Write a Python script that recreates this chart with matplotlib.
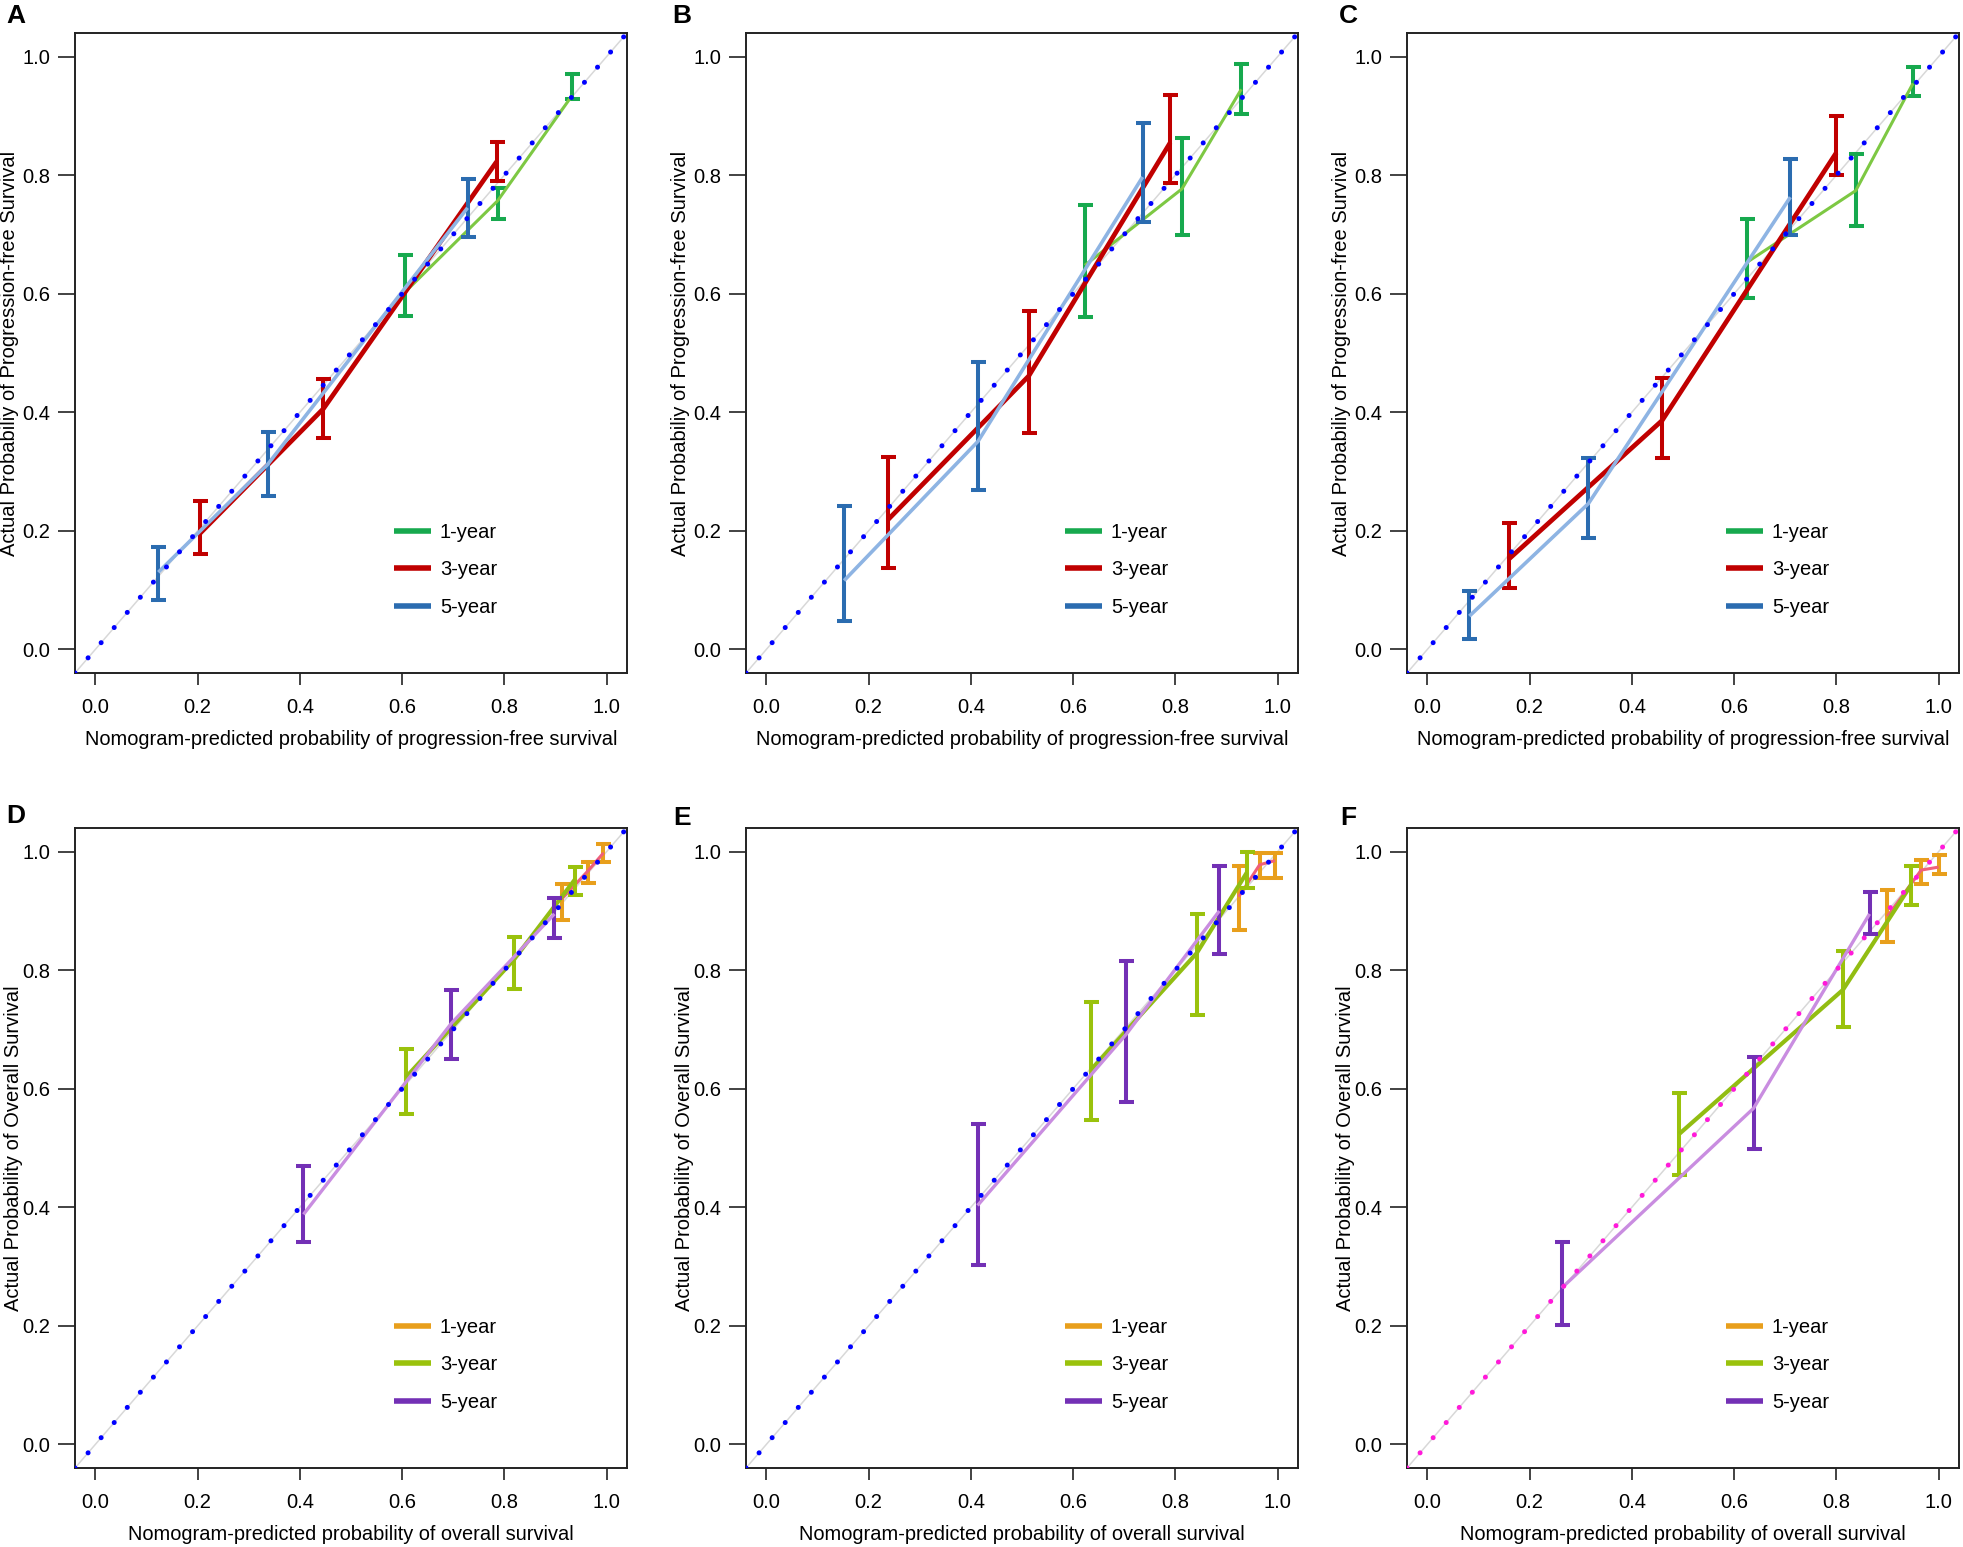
import matplotlib
matplotlib.use("Agg")
import matplotlib.pyplot as plt
from matplotlib.lines import Line2D

plt.rcParams['font.family'] = ['Liberation Sans', 'DejaVu Sans']

# ---------------- data (predicted, observed, CI low, CI high) ----------------
# Panel A (PFS)
A1_pred = [0.606, 0.787, 0.933]; A1_obs = [0.603, 0.757, 0.935]; A1_lo = [0.563, 0.726, 0.928]; A1_hi = [0.665, 0.779, 0.970]
A3_pred = [0.205, 0.446, 0.785]; A3_obs = [0.196, 0.406, 0.823]; A3_lo = [0.160, 0.356, 0.790]; A3_hi = [0.250, 0.456, 0.856]
A5_pred = [0.123, 0.337, 0.728]; A5_obs = [0.130, 0.312, 0.745]; A5_lo = [0.083, 0.259, 0.695]; A5_hi = [0.172, 0.366, 0.794]
# Panel B (PFS)
B1_pred = [0.623, 0.813, 0.929]; B1_obs = [0.648, 0.777, 0.945]; B1_lo = [0.561, 0.699, 0.903]; B1_hi = [0.750, 0.863, 0.987]
B3_pred = [0.237, 0.513, 0.790]; B3_obs = [0.218, 0.461, 0.855]; B3_lo = [0.138, 0.365, 0.787]; B3_hi = [0.324, 0.571, 0.935]
B5_pred = [0.152, 0.414, 0.736]; B5_obs = [0.116, 0.351, 0.797]; B5_lo = [0.048, 0.269, 0.721]; B5_hi = [0.241, 0.484, 0.888]
# Panel C (PFS)
C1_pred = [0.625, 0.838, 0.950]; C1_obs = [0.653, 0.774, 0.955]; C1_lo = [0.592, 0.715, 0.934]; C1_hi = [0.726, 0.836, 0.983]
C3_pred = [0.159, 0.459, 0.800]; C3_obs = [0.152, 0.386, 0.838]; C3_lo = [0.103, 0.322, 0.800]; C3_hi = [0.2125, 0.457, 0.900]
C5_pred = [0.082, 0.315, 0.710]; C5_obs = [0.056, 0.246, 0.763]; C5_lo = [0.017, 0.188, 0.699]; C5_hi = [0.098, 0.322, 0.827]
# Panel D (OS)
D1_pred = [0.912, 0.963, 0.994]; D1_obs = [0.920, 0.967, 0.998]; D1_lo = [0.885, 0.947, 0.982]; D1_hi = [0.946, 0.983, 1.013]
D3_pred = [0.607, 0.818, 0.938]; D3_obs = [0.619, 0.817, 0.953]; D3_lo = [0.557, 0.769, 0.927]; D3_hi = [0.667, 0.856, 0.974]
D5_pred = [0.407, 0.696, 0.898]; D5_obs = [0.388, 0.710, 0.895]; D5_lo = [0.342, 0.650, 0.854]; D5_hi = [0.469, 0.766, 0.922]
# Panel E (OS)
E1_pred = [0.924, 0.965, 0.995]; E1_obs = [0.924, 0.978, 0.985]; E1_lo = [0.868, 0.955, 0.955]; E1_hi = [0.976, 0.998, 0.998]
E3_pred = [0.635, 0.842, 0.940]; E3_obs = [0.632, 0.829, 0.965]; E3_lo = [0.548, 0.724, 0.938]; E3_hi = [0.747, 0.895, 1.000]
E5_pred = [0.413, 0.704, 0.886]; E5_obs = [0.403, 0.692, 0.900]; E5_lo = [0.302, 0.578, 0.827]; E5_hi = [0.540, 0.815, 0.976]
# Panel F (OS)
F1_pred = [0.900, 0.966, 1.000]; F1_obs = [0.891, 0.969, 0.974]; F1_lo = [0.847, 0.946, 0.963]; F1_hi = [0.935, 0.986, 0.994]
F3_pred = [0.493, 0.813, 0.947]; F3_obs = [0.524, 0.767, 0.945]; F3_lo = [0.454, 0.705, 0.910]; F3_hi = [0.592, 0.833, 0.976]
F5_pred = [0.263, 0.638, 0.865]; F5_obs = [0.264, 0.567, 0.895]; F5_lo = [0.2005, 0.4975, 0.861]; F5_hi = [0.341, 0.654, 0.932]

series_labels = ["1-year", "3-year", "5-year"]
tick_values = [0.0, 0.2, 0.4, 0.6, 0.8, 1.0]
tick_labels = ["0.0", "0.2", "0.4", "0.6", "0.8", "1.0"]
panel_letters = ["A", "B", "C", "D", "E", "F"]

pfs_xlabel = "Nomogram-predicted probability of progression-free survival"
pfs_ylabel = "Actual Probabiliy of Progression-free Survival"
os_xlabel = "Nomogram-predicted probability of overall survival"
os_ylabel = "Actual Probability of Overall Survival"

# ---------------- styles ----------------
pfs_bar_colors = ["#17a94e", "#c00000", "#2b6cb0"]
pfs_line_colors = ["#7dc843", "#c00000", "#8eb4e3"]
pfs_line_widths = [2.2, 3.4, 2.6]
os_bar_colors = ["#e89f1c", "#9ac20c", "#7330b5"]
os_line_colors = ["#f0607a", "#92bd12", "#c98de0"]
os_line_widths = [2.2, 3.0, 2.4]

panels = [
    dict(series=[(A1_pred, A1_obs, A1_lo, A1_hi), (A3_pred, A3_obs, A3_lo, A3_hi), (A5_pred, A5_obs, A5_lo, A5_hi)],
         kind="pfs", dot="#0000ff"),
    dict(series=[(B1_pred, B1_obs, B1_lo, B1_hi), (B3_pred, B3_obs, B3_lo, B3_hi), (B5_pred, B5_obs, B5_lo, B5_hi)],
         kind="pfs", dot="#0000ff"),
    dict(series=[(C1_pred, C1_obs, C1_lo, C1_hi), (C3_pred, C3_obs, C3_lo, C3_hi), (C5_pred, C5_obs, C5_lo, C5_hi)],
         kind="pfs", dot="#0000ff"),
    dict(series=[(D1_pred, D1_obs, D1_lo, D1_hi), (D3_pred, D3_obs, D3_lo, D3_hi), (D5_pred, D5_obs, D5_lo, D5_hi)],
         kind="os", dot="#0000ff"),
    dict(series=[(E1_pred, E1_obs, E1_lo, E1_hi), (E3_pred, E3_obs, E3_lo, E3_hi), (E5_pred, E5_obs, E5_lo, E5_hi)],
         kind="os", dot="#0000ff"),
    dict(series=[(F1_pred, F1_obs, F1_lo, F1_hi), (F3_pred, F3_obs, F3_lo, F3_hi), (F5_pred, F5_obs, F5_lo, F5_hi)],
         kind="os", dot="#ff1ad9"),
]

W, H = 1963, 1547
fig = plt.figure(figsize=(W / 100, H / 100), dpi=100)

col_left = [75, 746, 1407]
ax_w = 552
row_top = [33, 828]
ax_h = 640
label_pos = [(16, 16), (682, 16), (1348, 16), (16, 816), (682, 818), (1348, 818)]
ylabel_x = [-0.102, -0.102, -0.102, -0.095, -0.095, -0.095]

LIM = (-0.04, 1.04)

for i, p in enumerate(panels):
    r, c = divmod(i, 3)
    left = col_left[c] / W
    bottom = 1 - (row_top[r] + ax_h) / H
    ax = fig.add_axes([left, bottom, ax_w / W, ax_h / H])
    ax.set_xlim(*LIM)
    ax.set_ylim(*LIM)

    bar_cols = pfs_bar_colors if p["kind"] == "pfs" else os_bar_colors
    line_cols = pfs_line_colors if p["kind"] == "pfs" else os_line_colors
    line_ws = pfs_line_widths if p["kind"] == "pfs" else os_line_widths

    # reference diagonal
    ax.plot(LIM, LIM, color="#d8d8d8", lw=1.1, zorder=1)

    for k, (xp, yo, lo, hi) in enumerate(p["series"]):
        yerr = [[o - l for o, l in zip(yo, lo)], [h - o for o, h in zip(yo, hi)]]
        ax.errorbar(xp, yo, yerr=yerr, fmt="none", ecolor=bar_cols[k], elinewidth=2.9,
                    capsize=5.4, capthick=2.9, zorder=2 + k)
        ax.plot(xp, yo, color=line_cols[k], lw=line_ws[k], solid_capstyle="butt", zorder=2.5 + k)

    # dotted diagonal
    ax.plot(LIM, LIM, color=p["dot"], lw=3.6, linestyle=(0, (0.01, 3.99)),
            dash_capstyle="round", zorder=10)

    ax.set_xticks(tick_values)
    ax.set_xticklabels(tick_labels)
    ax.set_yticks(tick_values)
    ax.set_yticklabels(tick_labels)
    ax.tick_params(axis="both", width=1.2, labelsize=14.5, color="#222222")
    ax.tick_params(axis="x", length=8.5, pad=9.4)
    ax.tick_params(axis="y", length=12, pad=6)
    for s in ax.spines.values():
        s.set_linewidth(1.4)
        s.set_color("#222222")

    if p["kind"] == "pfs":
        ax.set_xlabel(pfs_xlabel, fontsize=14.4)
        ax.set_ylabel(pfs_ylabel, fontsize=14.5)
    else:
        ax.set_xlabel(os_xlabel, fontsize=14.4)
        ax.set_ylabel(os_ylabel, fontsize=14.5)
    ax.xaxis.set_label_coords(0.5, -0.089)
    ax.yaxis.set_label_coords(ylabel_x[i], 0.5)

    handles = [Line2D([], [], color=bar_cols[k], lw=4.0, solid_capstyle="butt") for k in range(3)]
    ax.legend(handles, series_labels, loc="center left", bbox_to_anchor=(0.577, 0.161),
              frameon=False, fontsize=14.5, handlelength=1.85, handletextpad=0.45,
              labelspacing=0.9, borderpad=0, borderaxespad=0)

    lx, ly = label_pos[i]
    fig.text(lx / W, 1 - ly / H, panel_letters[i], fontsize=19, fontweight="bold",
             ha="center", va="center")

fig.savefig("out.png", dpi=100)
